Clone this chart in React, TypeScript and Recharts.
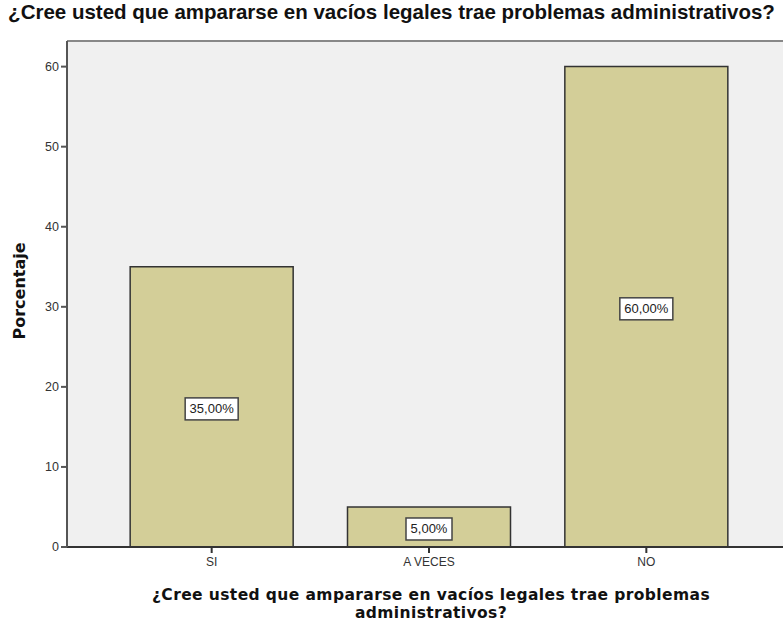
import { BarChart, Bar, XAxis, YAxis, CartesianGrid, LabelList, ReferenceLine } from "recharts";

const CATEGORIES = ["SI", "A VECES", "NO"];
const PERCENTS = [35, 5, 60];
const Y_TICKS = [0, 10, 20, 30, 40, 50, 60];

const TITLE = "¿Cree usted que ampararse en vacíos legales trae problemas administrativos?";
const X_TITLE_1 = "¿Cree usted que ampararse en vacíos legales trae problemas";
const X_TITLE_2 = "administrativos?";
const Y_TITLE = "Porcentaje";

const data = CATEGORIES.map((c, i) => ({ name: c, value: PERCENTS[i] }));

const SANS = "'Liberation Sans', Arial, sans-serif";
const BOLD = "'DejaVu Sans', Verdana, sans-serif";

// white box with the percentage, centred on the bar
function PctLabel(props: any) {
    const { x, y, width, height, value } = props;
    const text = Number(value).toFixed(2).replace(".", ",") + "%";
    const cx = x + width / 2;
    const cy = y + height / 2 + 2;
    const w = text.length * 7 + 11;
    return (
        <g>
            <rect x={cx - w / 2} y={cy - 11} width={w} height={22} fill="#fff" stroke="#444" strokeWidth={1.5} />
            <text x={cx} y={cy} textAnchor="middle" dominantBaseline="central" fontSize={13} fontFamily={SANS} fill="#222">
                {text}
            </text>
        </g>
    );
}

export default function App() {
    return (
        <div style={{ position: "absolute", left: 0, top: 0, width: 783, height: 623, overflow: "hidden", background: "#fff" }}>
            <div style={{ position: "absolute", left: 0, top: 0, width: 783, textAlign: "center", fontFamily: SANS, fontWeight: "bold", fontSize: 20.5, color: "#111", whiteSpace: "nowrap" }}>
                {TITLE}
            </div>
            <BarChart
                width={791}
                height={623}
                data={data}
                margin={{ top: 41, right: 0, left: 0, bottom: 0 }}
                barCategoryGap="12.5%"
            >
                <CartesianGrid horizontal={false} vertical={false} fill="#f0f0f0" />
                <ReferenceLine y={63.2} stroke="#888" strokeWidth={2} />
                <XAxis
                    dataKey="name"
                    height={76}
                    padding={{ left: 36, right: 36 }}
                    tick={{ fontSize: 12, fill: "#333", fontFamily: SANS }}
                    tickSize={6}
                    tickMargin={4}
                    stroke="#333"
                    strokeWidth={2}
                />
                <YAxis
                    width={67}
                    domain={[0, 63.2]}
                    ticks={Y_TICKS}
                    tick={{ fontSize: 12.5, fill: "#333", fontFamily: SANS }}
                    tickSize={6}
                    tickMargin={2}
                    stroke="#555"
                    strokeWidth={2}
                />
                <Bar dataKey="value" fill="#d3ce98" stroke="#333" strokeWidth={1.5} isAnimationActive={false}>
                    <LabelList dataKey="value" content={PctLabel} />
                </Bar>
            </BarChart>
            <div style={{ position: "absolute", left: 19, top: 291, transform: "translate(-50%, -50%) rotate(-90deg)", fontFamily: BOLD, fontWeight: "bold", fontSize: 16, color: "#111", whiteSpace: "nowrap" }}>
                {Y_TITLE}
            </div>
            <div style={{ position: "absolute", left: 431, top: 586, transform: "translateX(-50%)", textAlign: "center", fontFamily: BOLD, fontWeight: "bold", fontSize: 15.5, letterSpacing: 0.4, lineHeight: "18px", color: "#111", whiteSpace: "nowrap" }}>
                <div>{X_TITLE_1}</div>
                <div>{X_TITLE_2}</div>
            </div>
        </div>
    );
}
